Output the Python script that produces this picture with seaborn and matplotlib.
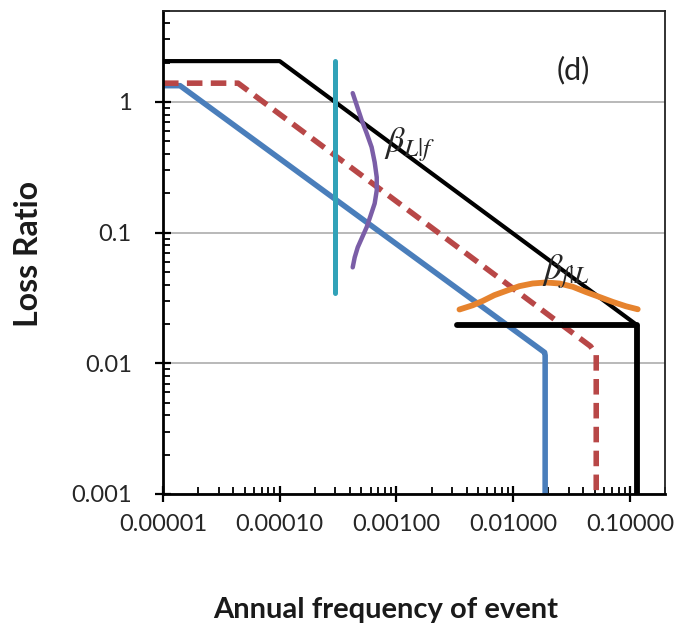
import numpy as np
import pandas as pd
import matplotlib
matplotlib.use("Agg")
import matplotlib.pyplot as plt
import matplotlib.ticker as mticker
import seaborn as sns

# ---- data (log-log) ----
black_x = [1e-5, 1e-4, 0.116]
black_y = [2.05, 2.05, 0.0195]
black_h_x = [0.0033, 0.116, 0.116]
black_h_y = [0.0195, 0.0195, 0.001]

red_x = [1e-5, 4.4e-5, 0.046, 0.0515, 0.0515]
red_y = [1.39, 1.39, 0.0135, 0.0117, 0.001]

blue_x = [1e-5, 1.4e-5, 0.0186, 0.0188, 0.0188]
blue_y = [1.33, 1.33, 0.0121, 0.0115, 0.001]

teal_x = [2.96e-4, 2.96e-4]
teal_y = [2.05, 0.0344]

purple_x = [4.22e-4, 4.57e-4, 5.04e-4, 5.56e-4, 6.13e-4, 6.51e-4, 6.78e-4, 6.78e-4,
            6.51e-4, 6.01e-4, 5.56e-4, 5.04e-4, 4.66e-4, 4.39e-4, 4.22e-4]
purple_y = [1.166, 0.943, 0.724, 0.575, 0.450, 0.345, 0.265, 0.210,
            0.167, 0.135, 0.110, 0.0903, 0.0771, 0.0646, 0.0542]

orange_x = [3.47e-3, 4.51e-3, 5.49e-3, 6.90e-3, 8.70e-3, 1.13e-2, 1.47e-2, 1.91e-2,
            2.49e-2, 3.24e-2, 4.20e-2, 5.47e-2, 7.12e-2, 9.26e-2, 0.1167]
orange_y = [0.0258, 0.0278, 0.0300, 0.0332, 0.0358, 0.0389, 0.0408, 0.0415,
            0.0408, 0.0385, 0.0351, 0.0322, 0.0295, 0.0273, 0.0259]

x_ticks = [1e-5, 1e-4, 1e-3, 1e-2, 1e-1]
x_tick_labels = ["0.00001", "0.00010", "0.00100", "0.01000", "0.10000"]
y_ticks = [0.001, 0.01, 0.1, 1]
y_tick_labels = ["0.001", "0.01", "0.1", "1"]

sns.set_theme(style="white")
plt.rcParams["font.family"] = ["Lato", "DejaVu Sans"]
plt.rcParams["mathtext.fontset"] = "stix"

fig = plt.figure(figsize=(6.83, 6.30), dpi=100)
ax = fig.add_axes([163 / 683, 1 - 494 / 630, (665 - 163) / 683, (494 - 10.5) / 630])
ax.set_xscale("log")
ax.set_yscale("log")
ax.set_xlim(1e-5, 0.2)
ax.set_ylim(0.001, 5)

# horizontal gridlines only
ax.yaxis.grid(True, which="major", color="#a6a6a6", lw=1.1)
ax.xaxis.grid(False)
ax.set_axisbelow(True)

def draw(xs, ys, **kw):
    sns.lineplot(x=xs, y=ys, sort=False, estimator=None, ax=ax, legend=False, **kw)

draw(blue_x, blue_y, color="#4a7ebb", lw=4.0, solid_joinstyle="round")
draw(red_x, red_y, color="#b84747", lw=4.0, linestyle=(0, (2.8, 1.5)))
draw(black_x, black_y, color="black", lw=3.0)
draw(black_h_x, black_h_y, color="black", lw=4.2, solid_capstyle="round")
draw(teal_x, teal_y, color="#31a2b8", lw=3.6, solid_capstyle="round")
draw(purple_x, purple_y, color="#7b5ea7", lw=3.2, solid_capstyle="round")
draw(orange_x, orange_y, color="#e6832e", lw=4.2, solid_capstyle="round")

ax.text(0.0327, 1.75, "(d)", fontsize=22, ha="center", va="center", color="#222222")
ax.text(1.3e-3, 0.47, r"$\beta_{L|f}$", fontsize=26, ha="center", va="center")
ax.text(0.0285, 0.05, r"$\beta_{f|L}$", fontsize=26, ha="center", va="center")

ax.set_xticks(x_ticks)
ax.set_xticklabels(x_tick_labels)
ax.set_yticks(y_ticks)
ax.set_yticklabels(y_tick_labels)
ax.xaxis.set_minor_locator(mticker.LogLocator(base=10, subs=np.arange(2, 10)))
ax.yaxis.set_minor_locator(mticker.LogLocator(base=10, subs=np.arange(2, 10)))
ax.xaxis.set_minor_formatter(mticker.NullFormatter())
ax.yaxis.set_minor_formatter(mticker.NullFormatter())

ax.tick_params(which="both", bottom=True, left=True, top=False, right=False)
ax.tick_params(which="major", direction="inout", length=11, width=1.6, color="black",
               labelsize=17, labelcolor="#262626")
ax.tick_params(which="minor", direction="in", length=5, width=1.3, color="black")
ax.tick_params(axis="x", which="major", pad=9)
ax.tick_params(axis="y", which="major", pad=17)

for side in ["left", "bottom"]:
    ax.spines[side].set_color("black")
    ax.spines[side].set_linewidth(2.0)
for side in ["top", "right"]:
    ax.spines[side].set_color("#222222")
    ax.spines[side].set_linewidth(1.3)

ax.set_xlabel("Annual frequency of event", fontsize=21, fontweight="bold", color="#1a1a1a")
ax.set_ylabel("Loss Ratio", fontsize=23, fontweight="bold", color="#1a1a1a")
ax.xaxis.set_label_coords(0.444, -0.213)
ax.yaxis.set_label_coords(-0.239, 0.496)

fig.savefig("out.png", dpi=100)
